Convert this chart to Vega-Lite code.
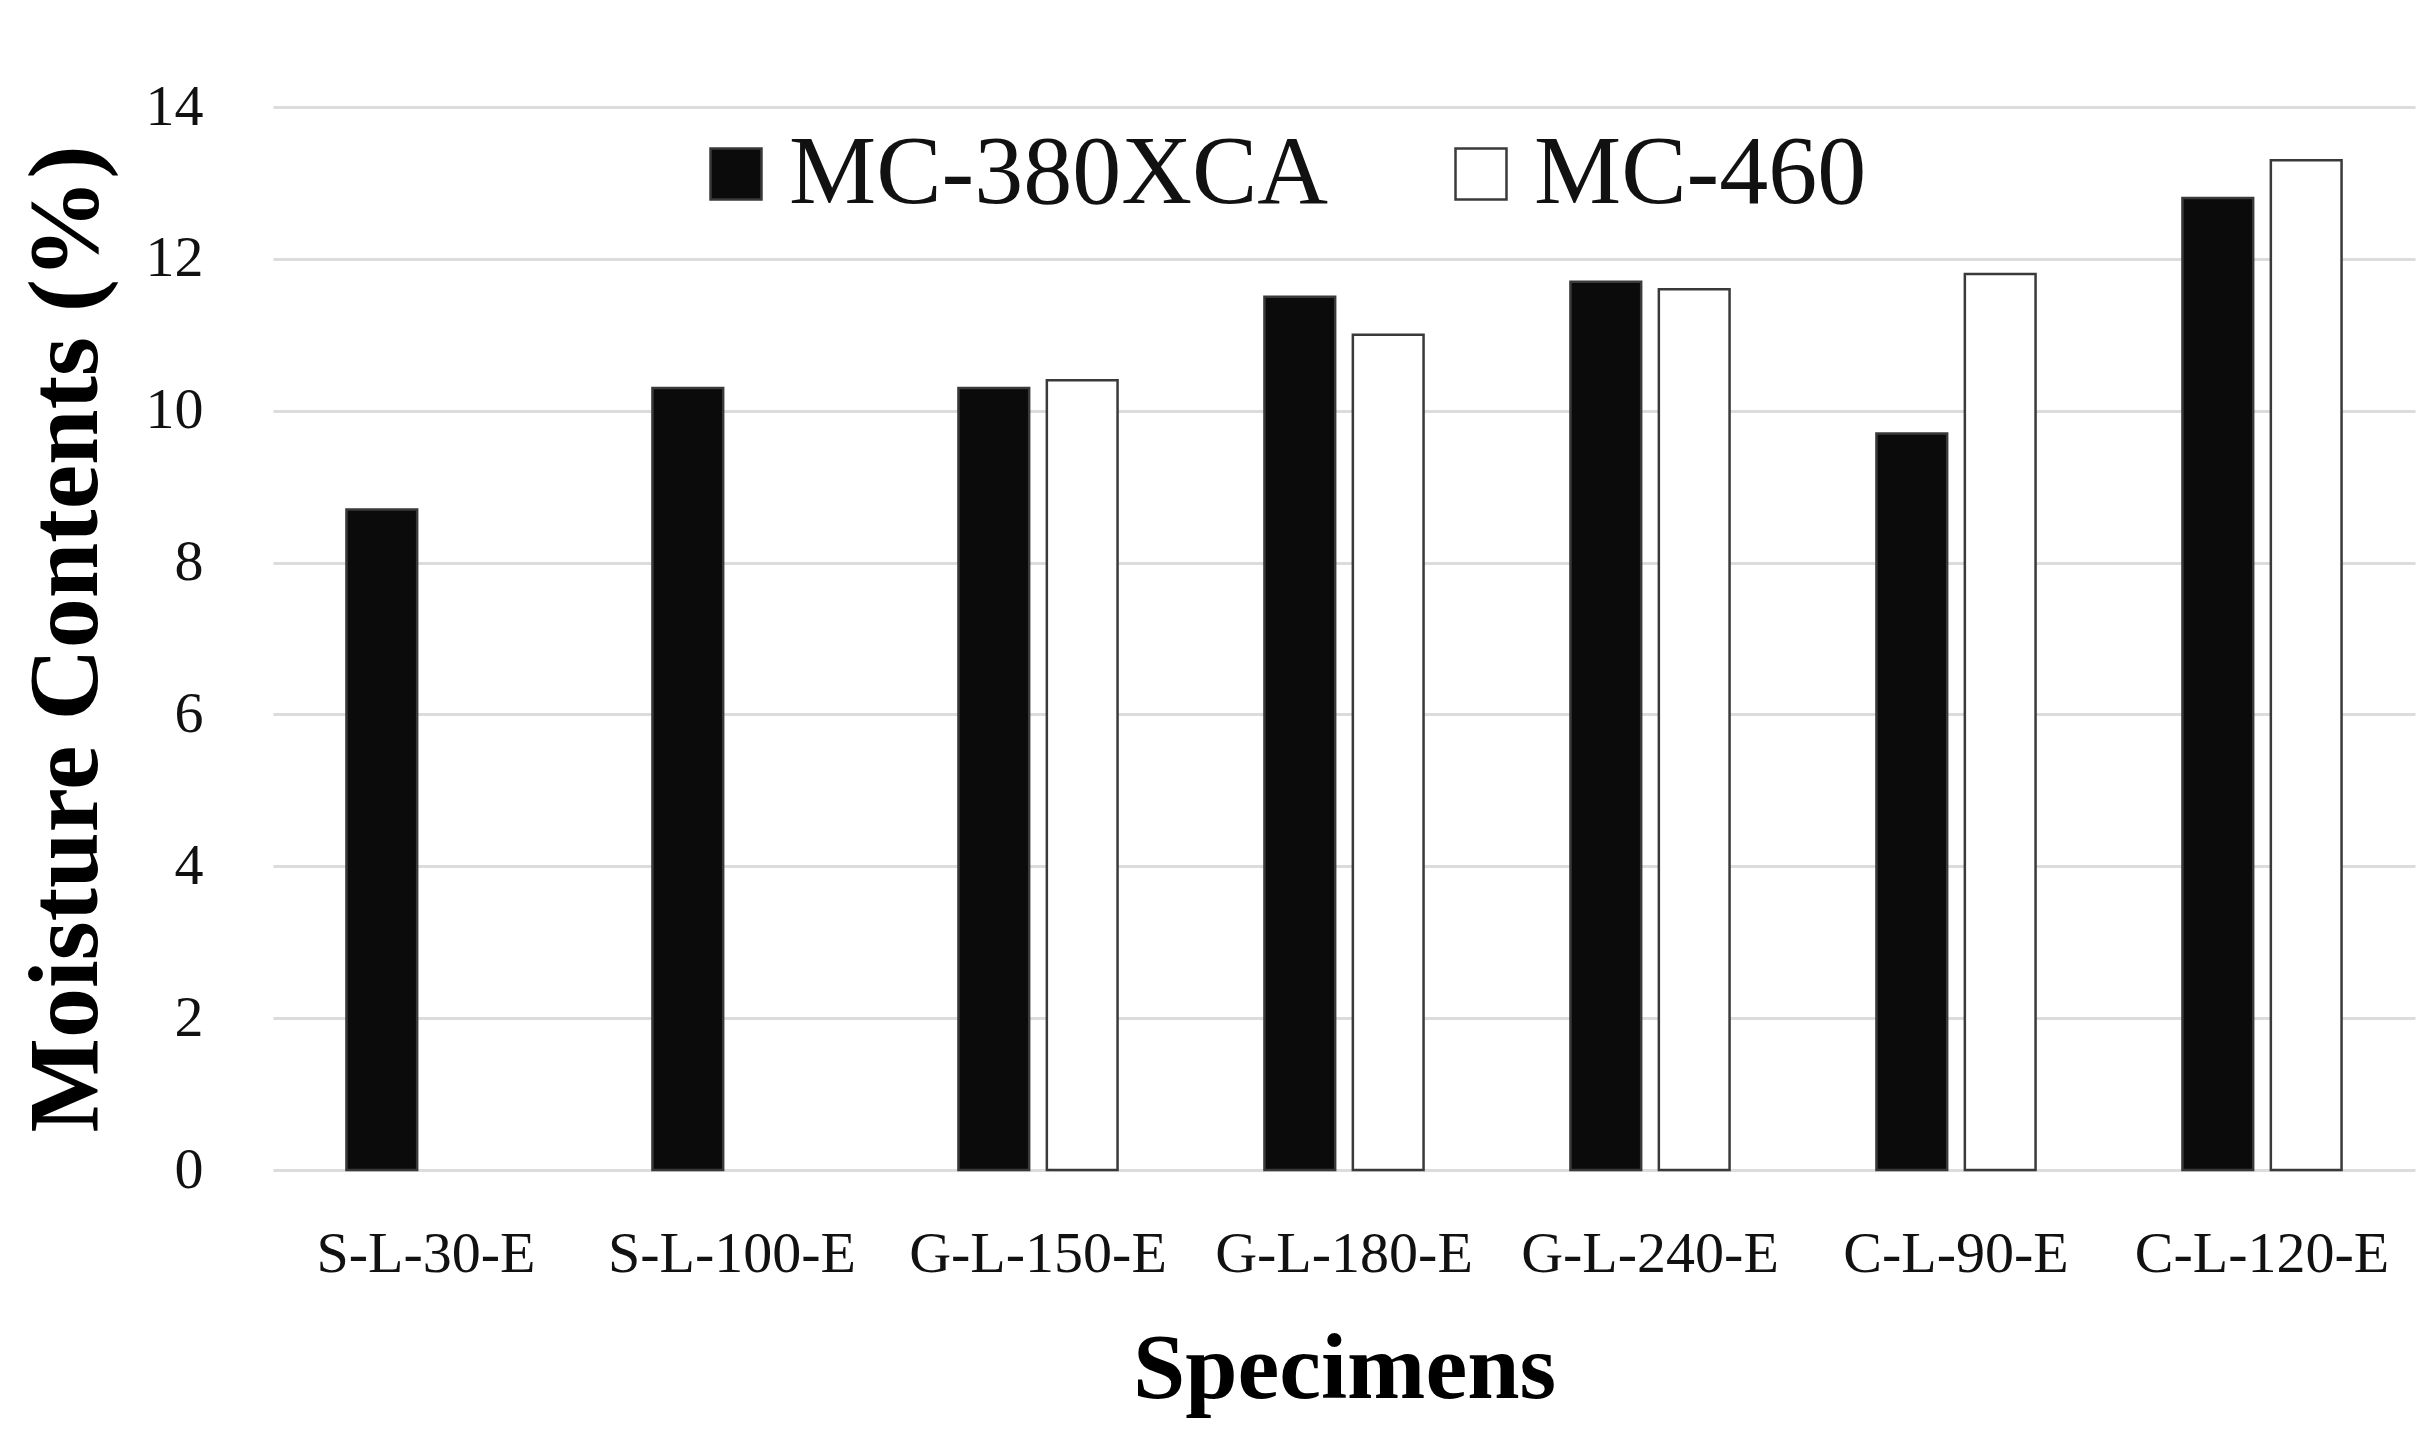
{
  "$schema": "https://vega.github.io/schema/vega-lite/v6.json",
  "autosize": {"type": "none"},
  "width": 2142,
  "height": 1063,
  "padding": {"left": 273, "top": 107, "right": 13, "bottom": 264},
  "background": "white",
  "config": {
    "font": "Liberation Serif",
    "view": {"stroke": null}
  },
  "data": {
    "values": [
      {"specimen": "S-L-30-E", "series": "MC-380XCA", "value": 8.7},
      {"specimen": "S-L-100-E", "series": "MC-380XCA", "value": 10.3},
      {"specimen": "G-L-150-E", "series": "MC-380XCA", "value": 10.3},
      {"specimen": "G-L-150-E", "series": "MC-460", "value": 10.4},
      {"specimen": "G-L-180-E", "series": "MC-380XCA", "value": 11.5},
      {"specimen": "G-L-180-E", "series": "MC-460", "value": 11.0},
      {"specimen": "G-L-240-E", "series": "MC-380XCA", "value": 11.7},
      {"specimen": "G-L-240-E", "series": "MC-460", "value": 11.6},
      {"specimen": "C-L-90-E", "series": "MC-380XCA", "value": 9.7},
      {"specimen": "C-L-90-E", "series": "MC-460", "value": 11.8},
      {"specimen": "C-L-120-E", "series": "MC-380XCA", "value": 12.8},
      {"specimen": "C-L-120-E", "series": "MC-460", "value": 13.3}
    ]
  },
  "mark": {"type": "bar", "stroke": "#3a3a3a", "strokeWidth": 2.5},
  "encoding": {
    "x": {
      "field": "specimen",
      "type": "nominal",
      "sort": ["S-L-30-E", "S-L-100-E", "G-L-150-E", "G-L-180-E", "G-L-240-E", "C-L-90-E", "C-L-120-E"],
      "scale": {"paddingInner": 0.48, "paddingOuter": 0.24},
      "axis": {
        "title": "Specimens",
        "titleFont": "Liberation Serif",
        "titleFontSize": 94,
        "titleFontWeight": "bold",
        "titleColor": "#000000",
        "titlePadding": 40,
        "labelFont": "Liberation Serif",
        "labelFontSize": 58,
        "labelColor": "#111111",
        "labelAngle": 0,
        "labelPadding": 55,
        "labelLimit": 600,
        "labelOverlap": false,
        "ticks": false,
        "domain": false,
        "grid": false
      }
    },
    "xOffset": {
      "field": "series",
      "type": "nominal",
      "scale": {"domain": ["MC-380XCA", "MC-460"], "paddingInner": 0.2, "paddingOuter": 0}
    },
    "y": {
      "field": "value",
      "type": "quantitative",
      "scale": {"domain": [0, 14], "nice": false, "zero": true},
      "axis": {
        "title": "Moisture Contents (%)",
        "titleFont": "Liberation Serif",
        "titleFontSize": 100,
        "titleFontWeight": "bold",
        "titleColor": "#000000",
        "titlePadding": 28,
        "values": [0, 2, 4, 6, 8, 10, 12, 14],
        "labelFont": "Liberation Serif",
        "labelFontSize": 58,
        "labelColor": "#111111",
        "labelPadding": 70,
        "ticks": false,
        "domain": false,
        "grid": true,
        "gridColor": "#dcdcdc",
        "gridWidth": 3
      }
    },
    "color": {
      "field": "series",
      "type": "nominal",
      "scale": {"domain": ["MC-380XCA", "MC-460"], "range": ["#0b0b0b", "#ffffff"]},
      "legend": {
        "title": null,
        "orient": "none",
        "legendX": 414,
        "legendY": 18,
        "direction": "horizontal",
        "columns": 2,
        "symbolType": "square",
        "symbolSize": 2600,
        "symbolStrokeColor": "#3a3a3a",
        "symbolStrokeWidth": 2.5,
        "symbolOpacity": 1,
        "labelFont": "Liberation Serif",
        "labelFontSize": 98,
        "labelColor": "#111111",
        "labelOffset": 4,
        "columnPadding": 103,
        "labelLimit": 1000
      }
    }
  }
}
